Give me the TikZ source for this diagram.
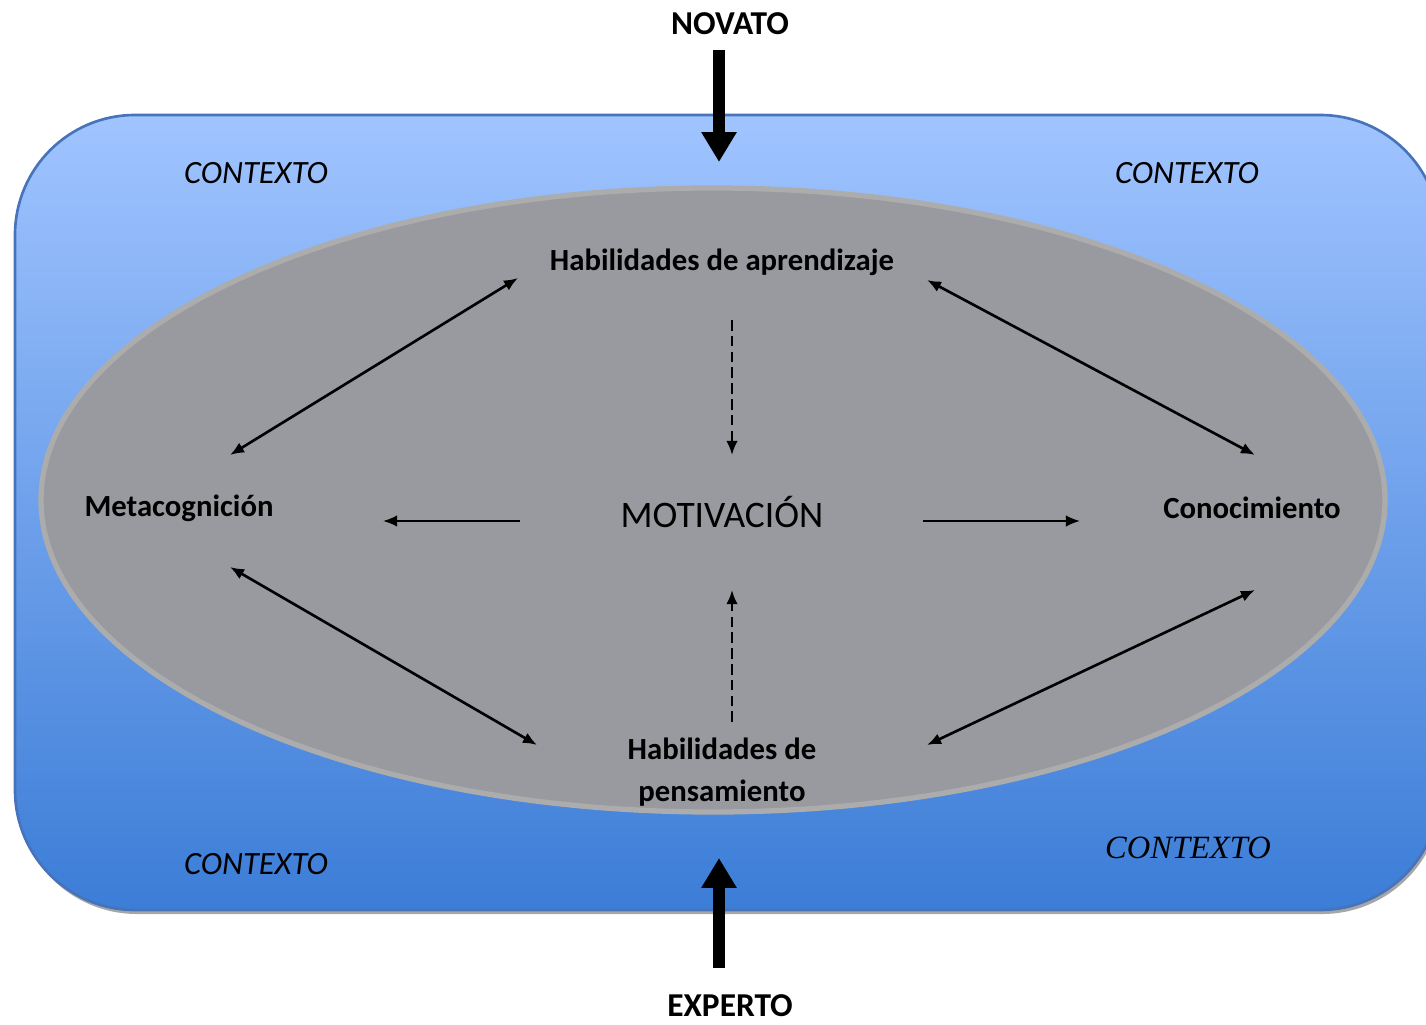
\documentclass[tikz,border=0pt]{standalone}
\usepackage{fontspec}
\setmainfont{Carlito}
\newfontfamily\ctxserif{Liberation Serif}
\usetikzlibrary{arrows.meta,positioning}
\definecolor{ctxtop}{RGB}{160,196,255}
\definecolor{ctxmid}{RGB}{125,170,240}
\definecolor{ctxbot}{RGB}{60,125,215}
\definecolor{ctxedge}{RGB}{70,115,185}
\definecolor{ovalfill}{RGB}{152,154,160}
\definecolor{ovaledge}{RGB}{172,172,172}
\tikzset{>={Latex[length=8pt,width=6.5pt]},
	both/.style={<->,line width=1.5pt},
	single/.style={->,line width=1.1pt},
	dashedarrow/.style={->,line width=1.3pt,dash pattern=on 6pt off 3pt},
	bigarrow/.style={-{Triangle[length=17pt,width=19pt]},line width=6.8pt},
	concept/.style={font=\fontsize{17.5}{23.5}\selectfont\bfseries,align=center,inner sep=0pt},
	context/.style={font=\fontsize{18.5}{20}\selectfont\itshape,inner sep=0pt},
	level/.style={font=\fontsize{19}{21}\selectfont\bfseries,inner sep=0pt}}

\begin{document}
\begin{tikzpicture}[x=0.02cm,y=-0.02cm]
	\useasboundingbox (0,0) rectangle (1426,1024);
	\clip (0,0) rectangle (1426,1024);
	% context box and oval
	\fill[black!35,rounded corners=2.4cm] (17,119) rectangle (1442,914);
	\shade[top color=ctxtop,middle color=ctxmid,bottom color=ctxbot,rounded corners=2.4cm]
		(15,115) rectangle (1440,910);
	\draw[ctxedge,line width=1.5pt,rounded corners=2.4cm] (15,115) rectangle (1440,910);
	\filldraw[fill=ovalfill,draw=ovaledge,line width=3pt] (713,500) ellipse [x radius=672,y radius=312];
	
	\node[level] (novato) at (730,24) {NOVATO};
	\node[level] (experto) at (730,1006) {EXPERTO};
	\node[context] (ctx-nw) at (256,173) {CONTEXTO};
	\node[context] (ctx-ne) at (1187,173) {CONTEXTO};
	\node[context] (ctx-sw) at (256,864) {CONTEXTO};
	\node[context,font=\fontsize{18.5}{20}\selectfont\ctxserif\itshape] (ctx-se) at (1188,848) {CONTEXTO};
	
	\node[concept] (aprend) at (722,262) {Habilidades de aprendizaje};
	\node[concept] (meta) at (179,508) {Metacognición};
	\node[concept] (conoc) at (1252,508) {Conocimiento};
	\node[concept] (pensam) at (722,772) {Habilidades de\\pensamiento};
	\node[inner sep=0pt,font=\fontsize{21.3}{23}\selectfont] (motiv) at (722,512) {MOTIVACIÓN};
	
	\coordinate (nv-a) at (719,50);   \coordinate (nv-b) at (719,162);
	\coordinate (ex-a) at (719,968);  \coordinate (ex-b) at (719,858);
	\coordinate (ap-w) at (518,278);  \coordinate (me-n) at (230,455);
	\coordinate (ap-e) at (927,280);  \coordinate (co-n) at (1255,455);
	\coordinate (me-s) at (230,567);  \coordinate (pe-w) at (537,745);
	\coordinate (co-s) at (1255,590); \coordinate (pe-e) at (927,745);
	\coordinate (ap-s) at (732,320);  \coordinate (mo-n) at (732,455);
	\coordinate (pe-n) at (732,722);  \coordinate (mo-s) at (732,590);
	\coordinate (mo-w) at (520,521);  \coordinate (me-e) at (383,521);
	\coordinate (mo-e) at (923,521);  \coordinate (co-w) at (1080,521);
	
	\draw[bigarrow] (nv-a) -- (nv-b);
	\draw[bigarrow] (ex-a) -- (ex-b);
	\draw[both] (ap-w) -- (me-n);
	\draw[both] (ap-e) -- (co-n);
	\draw[both] (me-s) -- (pe-w);
	\draw[both] (co-s) -- (pe-e);
	\draw[dashedarrow] (ap-s) -- (mo-n);
	\draw[dashedarrow] (pe-n) -- (mo-s);
	\draw[single] (mo-w) -- (me-e);
	\draw[single] (mo-e) -- (co-w);
\end{tikzpicture}
\end{document}
